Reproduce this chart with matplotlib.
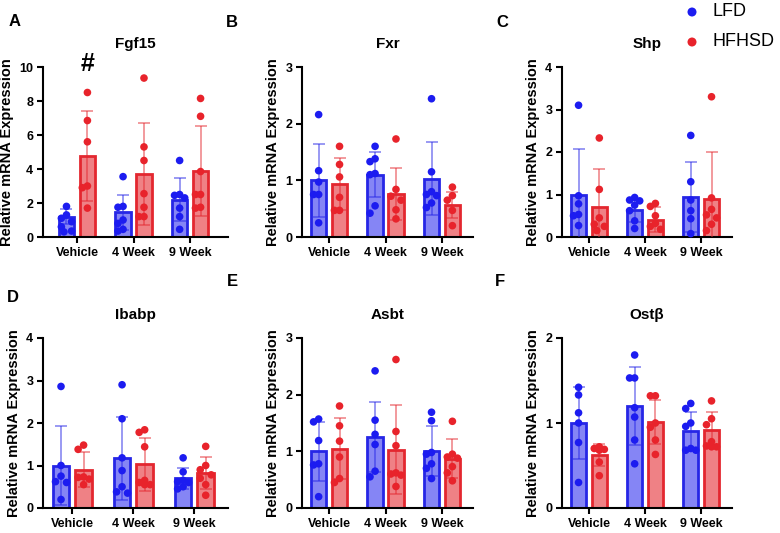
import numpy as np
import matplotlib.pyplot as plt

plt.rcParams['font.family'] = ['Liberation Sans', 'DejaVu Sans']

groups = ['Vehicle', '4 Week', '9 Week']
genes = ['Fgf15', 'Fxr', 'Shp', 'Ibabp', 'Asbt', 'Ostβ']
letters = ['A', 'B', 'C', 'D', 'E', 'F']
ymax = [10, 3, 4, 4, 3, 2]
ystep = [2, 1, 1, 1, 1, 1]

# LFD
lfd_mean = [[1.2, 1.45, 2.2], [1.0, 1.1, 1.03], [1.0, 0.63, 0.94],
            [1.0, 1.17, 0.7], [1.0, 1.25, 1.01], [1.0, 1.2, 0.91]]
lfd_sd = [[0.45, 1.05, 1.25], [0.64, 0.4, 0.65], [1.06, 0.27, 0.82],
          [0.94, 0.98, 0.25], [0.52, 0.62, 0.44], [0.42, 0.46, 0.22]]
lfd_pts = [
    [[1.8, 1.3, 1.1, 0.9, 0.6, 0.35, 0.3], [3.55, 1.8, 1.75, 1.0, 0.8, 0.45, 0.35], [4.5, 2.5, 2.45, 2.3, 1.7, 1.2, 0.45]],
    [[2.16, 1.17, 0.97, 0.75, 0.75, 0.25], [1.6, 1.38, 1.33, 1.12, 1.1, 0.55, 0.42], [2.44, 1.15, 0.8, 0.75, 0.73, 0.6, 0.52]],
    [[3.1, 0.97, 0.78, 0.53, 0.5, 0.27], [0.93, 0.87, 0.85, 0.75, 0.62, 0.38, 0.2], [2.39, 1.3, 0.87, 0.62, 0.43, 0.08]],
    [[2.86, 1.0, 0.75, 0.62, 0.6, 0.2], [2.9, 2.1, 1.18, 0.88, 0.5, 0.38, 0.35], [1.18, 0.85, 0.65, 0.62, 0.6, 0.5, 0.45]],
    [[1.57, 1.52, 1.19, 0.78, 0.76, 0.2], [2.42, 1.55, 1.3, 1.12, 0.65, 0.55], [1.69, 1.54, 0.98, 0.95, 0.78, 0.7, 0.52]],
    [[1.42, 1.33, 1.12, 1.0, 0.77, 0.3], [1.8, 1.53, 1.53, 1.18, 1.07, 0.8, 0.52], [1.23, 1.17, 1.0, 0.96, 0.7, 0.68, 0.68]],
]

# HFHSD
hf_mean = [[4.75, 3.7, 3.9], [0.93, 0.76, 0.56], [0.7, 0.41, 0.89],
           [0.9, 1.03, 0.82], [1.05, 1.03, 0.87], [0.62, 1.01, 0.92]]
hf_sd = [[2.65, 2.98, 2.65], [0.46, 0.46, 0.23], [0.89, 0.29, 1.1],
         [0.41, 0.62, 0.37], [0.53, 0.78, 0.34], [0.13, 0.26, 0.21]]
hf_pts = [
    [[8.5, 6.85, 5.6, 3.0, 2.9, 1.7], [9.35, 5.3, 4.5, 2.55, 1.75, 1.2, 1.2], [8.15, 7.1, 3.85, 2.5, 2.5, 1.75, 1.7]],
    [[1.6, 1.28, 1.06, 0.7, 0.47, 0.47], [1.73, 0.84, 0.72, 0.65, 0.48, 0.32], [0.88, 0.73, 0.65, 0.47, 0.2]],
    [[2.33, 1.12, 0.45, 0.3, 0.25, 0.15], [0.79, 0.72, 0.5, 0.32, 0.25, 0.18], [3.3, 0.92, 0.65, 0.52, 0.45, 0.3, 0.15]],
    [[1.48, 1.38, 0.73, 0.72, 0.68, 0.55], [1.84, 1.78, 1.44, 0.65, 0.6, 0.55, 0.55], [1.45, 1.0, 0.9, 0.78, 0.7, 0.55, 0.3]],
    [[1.8, 1.45, 1.18, 0.9, 0.52, 0.45], [2.62, 1.35, 1.1, 0.62, 0.6, 0.58, 0.38], [1.53, 0.95, 0.9, 0.88, 0.73, 0.62, 0.48]],
    [[0.72, 0.7, 0.69, 0.68, 0.54, 0.38], [1.32, 1.32, 1.0, 0.95, 0.8, 0.63], [1.26, 1.05, 0.98, 0.78, 0.73, 0.72, 0.72]],
]

blue_pt, blue_fill, blue_edge = '#1c1cf0', '#8585f5', '#2626e6'
red_pt, red_fill, red_edge = '#e8232b', '#ef8185', '#e3272f'

W, H = 780, 533
fig = plt.figure(figsize=(W / 100, H / 100), dpi=100)

# axes boxes in pixels: left, top, right, bottom
col_x = [(43, 228), (302, 473), (562, 732)]
row_y = [(67, 237), (338, 508)]
letter_pos = [(15, 21), (232, 22), (502, 22), (13, 297), (232, 282), (500, 282)]


def swarm(vals, ypx, xpx, dia=7.5):
    # spread overlapping points sideways, but stay inside the bar
    order = np.argsort(vals)[::-1]
    placed = []
    offs = np.zeros(len(vals))
    cands = [0, -0.09, 0.09, -0.045, 0.045]
    for i in order:
        best, best_d = 0, -1
        for cnd in cands:
            ox = cnd * xpx
            d = min([np.hypot(px - ox, py - vals[i] * ypx) for px, py in placed] or [99])
            if d >= dia:
                best = cnd
                break
            if d > best_d:
                best, best_d = cnd, d
        placed.append((best * xpx, vals[i] * ypx))
        offs[i] = best
    return offs


for k in range(6):
    r, c = divmod(k, 3)
    x0, x1 = col_x[c]
    y0, y1 = row_y[r]
    ax = fig.add_axes([x0 / W, 1 - y1 / H, (x1 - x0) / W, (y1 - y0) / H])
    xlim = (-0.6, 2.67) if k == 0 else (-0.48, 2.55)
    ax.set_xlim(*xlim)
    ax.set_ylim(0, ymax[k])
    xpx = (x1 - x0) / (xlim[1] - xlim[0])
    ypx = (y1 - y0) / ymax[k]
    x = np.arange(3)
    for off, mean, sd, pts, fc, ec, pc in [
            (-0.185, lfd_mean[k], lfd_sd[k], lfd_pts[k], blue_fill, blue_edge, blue_pt),
            (0.185, hf_mean[k], hf_sd[k], hf_pts[k], red_fill, red_edge, red_pt)]:
        ax.bar(x + off, mean, width=0.27, color=fc, edgecolor=ec, linewidth=2.0, zorder=2)
        ax.errorbar(x + off, mean, yerr=sd, fmt='none', ecolor=ec, alpha=0.55,
                    elinewidth=1.2, capsize=4, capthick=1.2, zorder=3)
        for g in range(3):
            v = np.array(pts[g])
            jx = swarm(v, ypx, xpx)
            ax.scatter(g + off + jx, v, s=30, color=pc, edgecolors='none', zorder=4, clip_on=False)
    ax.spines['top'].set_visible(False)
    ax.spines['right'].set_visible(False)
    ax.spines['left'].set_linewidth(1.5)
    ax.spines['bottom'].set_linewidth(1.5)
    ax.set_yticks(np.arange(0, ymax[k] + 0.01, ystep[k]))
    ax.set_xticks(x)
    ax.set_xticklabels(groups)
    ax.tick_params(axis='both', width=1.5, length=4, labelsize=9, pad=3)
    for t in ax.get_xticklabels() + ax.get_yticklabels():
        t.set_fontweight('bold')
    ax.set_ylabel('Relative mRNA Expression', fontsize=10.5, fontweight='bold', labelpad=4)
    ax.set_title(genes[k], fontsize=11, fontweight='bold', pad=14)
    lx, ly = letter_pos[k]
    fig.text(lx / W, 1 - ly / H, letters[k], fontsize=12, fontweight='bold', ha='center', va='center')
    if k == 0:
        ax.text(0.185, 10.2, '#', fontsize=18, fontweight='bold', ha='center', va='center')

# legend
lax = fig.add_axes([0, 0, 1, 1], facecolor='none')
lax.set_xlim(0, W)
lax.set_ylim(H, 0)
lax.axis('off')
lax.scatter([692], [12], s=42, color=blue_pt, edgecolors='none')
lax.scatter([692], [42], s=42, color=red_pt, edgecolors='none')
lax.text(712, 12, 'LFD', fontsize=13, va='center', ha='left')
lax.text(712, 42, 'HFHSD', fontsize=13, va='center', ha='left')

fig.savefig('out.png', dpi=100)
